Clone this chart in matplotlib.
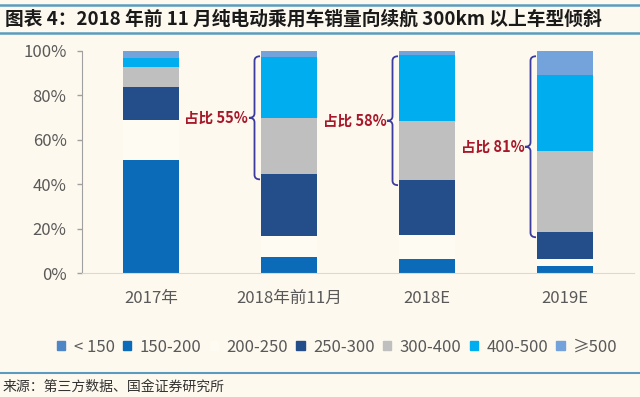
import numpy as np
import matplotlib
matplotlib.use("Agg")
from matplotlib import pyplot as plt
from matplotlib.patches import Rectangle, PathPatch
from matplotlib.path import Path
from matplotlib.lines import Line2D

plt.rcParams['font.family'] = ['Noto Sans CJK SC', 'DejaVu Sans']

# data (share of sales, %)
categories = ["2017年", "2018年前11月", "2018E", "2019E"]
ranges = ["< 150", "150-200", "200-250", "250-300", "300-400", "400-500", "≥500"]
lt150 = [0.3, 0.3, 0.3, 0.3]
r150_200 = [50.4, 6.8, 6.3, 3.0]
r200_250 = [18.1, 9.6, 10.6, 3.1]
r250_300 = [14.8, 28.0, 24.9, 12.3]
r300_400 = [9.1, 25.0, 26.4, 36.2]
r400_500 = [3.8, 27.3, 29.4, 34.4]
ge500 = [3.5, 3.0, 2.1, 10.7]
yticks = [0, 20, 40, 60, 80, 100]
ytick_labels = ["0%", "20%", "40%", "60%", "80%", "100%"]

series = [lt150, r150_200, r200_250, r250_300, r300_400, r400_500, ge500]
colors = ['#4F86C6', '#0B6BB8', '#FEFBF3', '#244E8A', '#BFBFBF', '#00AEEF', '#74A2DA']
bg = '#FDF9EE'

fig = plt.figure(figsize=(6.4, 3.97), dpi=100, facecolor=bg)
ax = fig.add_axes([82/640, 1-273.3/397, (634-82)/640, (273.3-50.7)/397])
ax.set_facecolor(bg)

x = np.arange(len(categories))
width = 0.4
bottom = np.zeros(len(categories))
for vals, c in zip(series, colors):
    ax.bar(x, vals, width, bottom=bottom, color=c, linewidth=0)
    bottom += np.array(vals)

ax.set_xlim(-0.5, len(categories) - 0.5)
ax.set_ylim(0, 100)
ax.set_yticks(yticks)
ax.set_yticklabels(ytick_labels)
ax.set_xticks(x)
ax.set_xticklabels(categories)
ax.tick_params(axis='x', length=0, pad=12, labelsize=12, labelcolor='#595959')
ax.tick_params(axis='y', length=3.6, width=1, color='#A0A0A0', pad=7.5,
               labelsize=12, labelcolor='#595959')
for s in ['top', 'right']:
    ax.spines[s].set_visible(False)
ax.spines['left'].set_color('#A0A0A0')
ax.spines['bottom'].set_color('#D9D9D9')

# braces showing share of >=300km
def brace(ax, x_end, bot, top, w=0.08, r=2.0, color='#3B3B9E'):
    xl = x_end - w / 2
    xt = x_end - w
    mid = (bot + top) / 2
    verts = [(x_end, top), (xl, top), (xl, top - r),
             (xl, mid + r),
             (xl, mid), (xt, mid),
             (xl, mid), (xl, mid - r),
             (xl, bot + r),
             (xl, bot), (x_end, bot)]
    codes = [Path.MOVETO, Path.CURVE3, Path.CURVE3,
             Path.LINETO,
             Path.CURVE3, Path.CURVE3,
             Path.CURVE3, Path.CURVE3,
             Path.LINETO,
             Path.CURVE3, Path.CURVE3]
    ax.add_patch(PathPatch(Path(verts, codes), fill=False, edgecolor=color, lw=1.3))
    return xt, mid

base300 = np.array(lt150) + np.array(r150_200) + np.array(r200_250) + np.array(r250_300)
share = np.array(r300_400) + np.array(r400_500) + np.array(ge500)
for i in range(1, len(categories)):
    xt, mid = brace(ax, x[i] - width / 2 - 0.01, base300[i] - 2.5, 97.5)
    ax.text(xt - 0.005, mid, "占比 %d%%" % round(share[i]), ha='right', va='center',
            fontsize=10.5, fontweight='bold', color='#A8182A')

# legend
handles = [Rectangle((0, 0), 1, 1, color=c) for c in colors]
fig.legend(handles, ranges, loc='center', bbox_to_anchor=(0.527, 1-347/397), ncol=7,
           frameon=False, fontsize=12, handlelength=0.5, handleheight=0.5,
           handletextpad=0.5, columnspacing=0.5, labelcolor='#595959')

# title and source
line_c = '#5B9BC0'
fig.add_artist(Line2D([0, 1], [1-5/397, 1-5/397], color=line_c, lw=1.8))
fig.add_artist(Line2D([0, 1], [1-33/397, 1-33/397], color=line_c, lw=1.8))
fig.add_artist(Line2D([0, 1], [1-373/397, 1-373/397], color=line_c, lw=1.5))
fig.text(5/640, 1-19/397, "图表 4：2018 年前 11 月纯电动乘用车销量向续航 300km 以上车型倾斜",
         fontsize=13.5, fontweight='bold', fontstyle='italic', color='#1A1A1A', va='center')
fig.text(3/640, 1-387/397, "来源：第三方数据、国金证券研究所", fontsize=10,
         color='#333333', va='center')

fig.savefig("out.png", dpi=100, facecolor=bg)
